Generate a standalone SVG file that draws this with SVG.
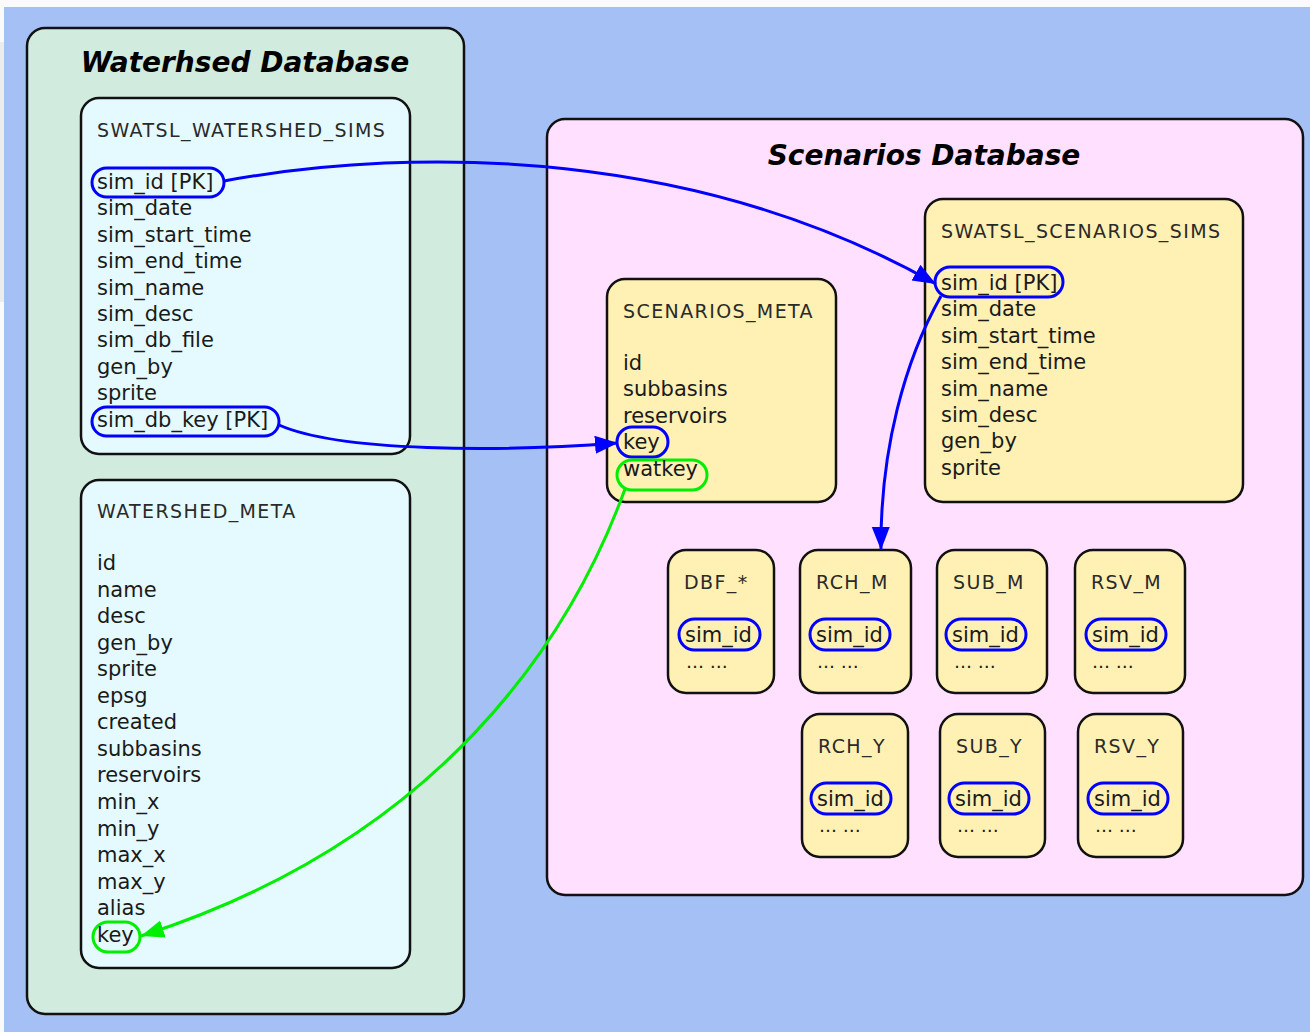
<svg xmlns="http://www.w3.org/2000/svg" width="1310" height="1032" viewBox="0 0 1310 1032">
<style>
.cl{stroke:#111;stroke-width:2.5}
.nd{stroke:#111;stroke-width:2.5}
.ws{fill:#e5faff}
.sc{fill:#fff0b3}
.ct{font-family:"DejaVu Sans",sans-serif;font-weight:bold;font-style:italic;font-size:28px;fill:#000;text-anchor:middle}
.tt{font-family:"DejaVu Sans",sans-serif;font-size:19px;letter-spacing:1.4px;fill:#2a2a2a}
.f{font-family:"DejaVu Sans",sans-serif;font-size:21px;fill:#1a1a1a}
.d{font-family:"DejaVu Sans",sans-serif;font-size:18px;fill:#1a1a1a}
.pb{fill:none;stroke:#0000ff;stroke-width:3}
.pg{fill:none;stroke:#00ee00;stroke-width:3}
.eb{fill:none;stroke:#0000ff;stroke-width:3}
.eg{fill:none;stroke:#00ee00;stroke-width:3}
</style>
<defs>
<marker id="ab" markerUnits="userSpaceOnUse" markerWidth="26" markerHeight="20" refX="23" refY="9" orient="auto"><path d="M0,0 L23,9 L0,18 z" fill="#0000ff"/></marker>
<marker id="ag" markerUnits="userSpaceOnUse" markerWidth="26" markerHeight="20" refX="23" refY="9" orient="auto"><path d="M0,0 L23,9 L0,18 z" fill="#00ee00"/></marker>
</defs>
<rect x="0" y="0" width="1310" height="1032" fill="#fafafa"/>
<rect x="0" y="42" width="4" height="260" fill="#ececec"/>
<rect x="4" y="7" width="1306" height="1025" fill="#a4c0f4"/>

<g id="cluster_watershed">
<rect class="cl" x="27" y="28" width="437" height="986" rx="18" fill="#d1ebdf"/>
<text class="ct" x="245" y="72">Waterhsed Database</text>
</g>
<g id="cluster_scenarios">
<rect class="cl" x="547" y="119" width="756" height="776" rx="18" fill="#ffe0ff"/>
<text class="ct" x="924" y="165">Scenarios Database</text>
</g>

<g id="SWATSL_WATERSHED_SIMS">
<rect class="nd ws" x="81" y="98" width="329" height="356" rx="18"/>
<text class="tt" x="97" y="137">SWATSL_WATERSHED_SIMS</text>
<rect class="pb" x="92" y="168" width="132" height="29" rx="14.5"/>
<text class="f" x="97" y="189">sim_id [PK]</text>
<text class="f" x="97" y="215.4">sim_date</text>
<text class="f" x="97" y="241.8">sim_start_time</text>
<text class="f" x="97" y="268.2">sim_end_time</text>
<text class="f" x="97" y="294.6">sim_name</text>
<text class="f" x="97" y="321">sim_desc</text>
<text class="f" x="97" y="347.4">sim_db_file</text>
<text class="f" x="97" y="373.8">gen_by</text>
<text class="f" x="97" y="400.2">sprite</text>
<rect class="pb" x="92" y="407" width="187" height="29" rx="14.5"/>
<text class="f" x="97" y="426.6">sim_db_key [PK]</text>
</g>

<g id="WATERSHED_META">
<rect class="nd ws" x="81" y="480" width="329" height="488" rx="18"/>
<text class="tt" x="97" y="518">WATERSHED_META</text>
<text class="f" x="97" y="570">id</text>
<text class="f" x="97" y="596.6">name</text>
<text class="f" x="97" y="623.1">desc</text>
<text class="f" x="97" y="649.7">gen_by</text>
<text class="f" x="97" y="676.2">sprite</text>
<text class="f" x="97" y="702.8">epsg</text>
<text class="f" x="97" y="729.3">created</text>
<text class="f" x="97" y="755.9">subbasins</text>
<text class="f" x="97" y="782.4">reservoirs</text>
<text class="f" x="97" y="809">min_x</text>
<text class="f" x="97" y="835.5">min_y</text>
<text class="f" x="97" y="862.1">max_x</text>
<text class="f" x="97" y="888.6">max_y</text>
<text class="f" x="97" y="915.2">alias</text>
<rect class="pg" x="93" y="922" width="47" height="30" rx="15"/>
<text class="f" x="97" y="942">key</text>
</g>

<g id="SWATSL_SCENARIOS_SIMS">
<rect class="nd sc" x="925" y="199" width="318" height="303" rx="18"/>
<text class="tt" x="941" y="238">SWATSL_SCENARIOS_SIMS</text>
<rect class="pb" x="935" y="267" width="128" height="30" rx="15"/>
<text class="f" x="941" y="290">sim_id [PK]</text>
<text class="f" x="941" y="316.4">sim_date</text>
<text class="f" x="941" y="342.8">sim_start_time</text>
<text class="f" x="941" y="369.2">sim_end_time</text>
<text class="f" x="941" y="395.6">sim_name</text>
<text class="f" x="941" y="422">sim_desc</text>
<text class="f" x="941" y="448.4">gen_by</text>
<text class="f" x="941" y="474.8">sprite</text>
</g>

<g id="SCENARIOS_META">
<rect class="nd sc" x="607" y="279" width="229" height="223" rx="18"/>
<text class="tt" x="623" y="318">SCENARIOS_META</text>
<text class="f" x="623" y="370">id</text>
<text class="f" x="623" y="396.4">subbasins</text>
<text class="f" x="623" y="422.8">reservoirs</text>
<rect class="pb" x="617" y="427" width="51" height="30" rx="15"/>
<text class="f" x="623" y="449.2">key</text>
<rect class="pg" x="617" y="460" width="90" height="30" rx="15"/>
<text class="f" x="623" y="475.6">watkey</text>
</g>

<g id="DBF">
<rect class="nd sc" x="668" y="550" width="106" height="143" rx="18"/>
<text class="tt" x="684" y="589">DBF_*</text>
<rect class="pb" x="679" y="619" width="81" height="31" rx="15.5"/>
<text class="f" x="685" y="642">sim_id</text>
<text class="d" x="686" y="668">… …</text>
</g>
<g id="RCH_M">
<rect class="nd sc" x="800" y="550" width="111" height="143" rx="18"/>
<text class="tt" x="816" y="589">RCH_M</text>
<rect class="pb" x="810" y="619" width="80" height="31" rx="15.5"/>
<text class="f" x="816" y="642">sim_id</text>
<text class="d" x="817" y="668">… …</text>
</g>
<g id="SUB_M">
<rect class="nd sc" x="937" y="550" width="110" height="143" rx="18"/>
<text class="tt" x="953" y="589">SUB_M</text>
<rect class="pb" x="946" y="619" width="80" height="31" rx="15.5"/>
<text class="f" x="952" y="642">sim_id</text>
<text class="d" x="954" y="668">… …</text>
</g>
<g id="RSV_M">
<rect class="nd sc" x="1075" y="550" width="110" height="143" rx="18"/>
<text class="tt" x="1091" y="589">RSV_M</text>
<rect class="pb" x="1086" y="619" width="80" height="31" rx="15.5"/>
<text class="f" x="1092" y="642">sim_id</text>
<text class="d" x="1092" y="668">… …</text>
</g>
<g id="RCH_Y">
<rect class="nd sc" x="802" y="714" width="106" height="143" rx="18"/>
<text class="tt" x="818" y="753">RCH_Y</text>
<rect class="pb" x="811" y="783" width="80" height="31" rx="15.5"/>
<text class="f" x="817" y="806">sim_id</text>
<text class="d" x="819" y="832">… …</text>
</g>
<g id="SUB_Y">
<rect class="nd sc" x="940" y="714" width="105" height="143" rx="18"/>
<text class="tt" x="956" y="753">SUB_Y</text>
<rect class="pb" x="949" y="783" width="80" height="31" rx="15.5"/>
<text class="f" x="955" y="806">sim_id</text>
<text class="d" x="957" y="832">… …</text>
</g>
<g id="RSV_Y">
<rect class="nd sc" x="1078" y="714" width="105" height="143" rx="18"/>
<text class="tt" x="1094" y="753">RSV_Y</text>
<rect class="pb" x="1088" y="783" width="80" height="31" rx="15.5"/>
<text class="f" x="1094" y="806">sim_id</text>
<text class="d" x="1095" y="832">… …</text>
</g>

<g id="connectors">
<path class="eb" d="M224,181 C420,145 700,150 936,284" marker-end="url(#ab)"/>
<path class="eb" d="M279,425 C340,452 500,452 618,443" marker-end="url(#ab)"/>
<path class="eb" d="M941,296 C905,360 880,450 881,550" marker-end="url(#ab)"/>
<path class="eg" d="M625,489 C570,640 440,840 141,936" marker-end="url(#ag)"/>
</g>
</svg>
